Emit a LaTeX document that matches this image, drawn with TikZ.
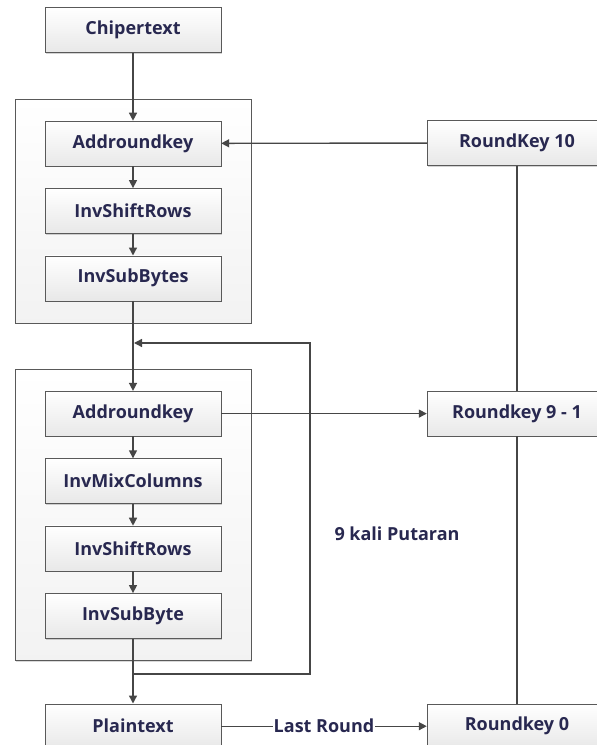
\documentclass[tikz,border=0pt]{standalone}
\usepackage{fontspec}
\setmainfont{Open Sans}
\usetikzlibrary{positioning,fit,backgrounds,shadows,arrows.meta}

\definecolor{boxtext}{RGB}{40,40,80}
\definecolor{lineclr}{RGB}{70,70,70}

\tikzset{
  stage/.style={draw=gray!70!black, top color=white, bottom color=gray!18,
    minimum width=176pt, minimum height=45pt, inner sep=0pt,
    font=\fontsize{18}{21}\selectfont\bfseries, text=boxtext,
    drop shadow={shadow xshift=1.2pt, shadow yshift=-1.2pt, opacity=.35}},
  keybox/.style={stage, minimum width=180pt},
  group/.style={draw=gray!70!black, top color=white, bottom color=gray!10,
    inner xsep=30pt, inner ysep=22pt,
    drop shadow={shadow xshift=1.2pt, shadow yshift=-1.2pt, opacity=.3}},
  note/.style={font=\fontsize{18}{21}\selectfont\bfseries, text=boxtext, inner sep=1pt},
  flow/.style={draw=lineclr, line width=1.4pt, -{Triangle[length=8pt,width=8pt]}},
  link/.style={draw=lineclr, line width=1.4pt},
}

\begin{document}
\begin{tikzpicture}[x=1pt,y=-1pt]
  \clip (0,0) rectangle (597,745);

  \node[stage]                      (cipher) at (133,30) {Chipertext};
  \node[stage, below=68pt of cipher] (ark1)   {Addroundkey};
  \node[stage, below=22pt of ark1]   (shift1) {InvShiftRows};
  \node[stage, below=22pt of shift1] (sub1)   {InvSubBytes};
  \node[stage, below=90pt of sub1]   (ark2)   {Addroundkey};
  \node[stage, below=22pt of ark2]   (mix2)   {InvMixColumns};
  \node[stage, below=22pt of mix2]   (shift2) {InvShiftRows};
  \node[stage, below=22pt of shift2] (sub2)   {InvSubByte};
  \node[stage, below=65pt of sub2]   (plain)  {Plaintext};

  \node[keybox] (key10) at (517,143)       {RoundKey 10};
  \node[keybox] (key9)  at (key10 |- ark2)  {Roundkey 9 - 1};
  \node[keybox] (key0)  at (key10 |- plain) {Roundkey 0};

  \node[note] (loops) at (397,534) {9 kali Putaran};

  \begin{scope}[on background layer]
    \node[group, fit=(ark1)(sub1)] (round1) {};
    \node[group, fit=(ark2)(sub2)] (round2) {};
  \end{scope}

  % Connect the stages
  \draw[flow] (cipher) -- (ark1);
  \draw[flow] (ark1) -- (shift1);
  \draw[flow] (shift1) -- (sub1);
  \draw[flow] (sub1) -- (ark2);
  \draw[flow] (ark2) -- (mix2);
  \draw[flow] (mix2) -- (shift2);
  \draw[flow] (shift2) -- (sub2);
  \draw[flow] (sub2) -- (plain);

  % Round keys
  \draw[flow] (key10) -- (ark1);
  \draw[flow] (ark2) -- (key9);
  \draw[link] (key10) -- (key9);
  \draw[link] (key9) -- (key0);
  \draw[flow] (plain) -- node[note, fill=white] (last) {Last Round} (key0);

  % Loop back
  \coordinate (loopout)  at (sub2.south |- 0,674);
  \coordinate (loopturn) at (310,674);
  \coordinate (loopback) at (sub1.south |- 0,343);
  \draw[flow, shorten >=1pt] (loopout) -- (loopturn) |- (loopback);
\end{tikzpicture}
\end{document}
